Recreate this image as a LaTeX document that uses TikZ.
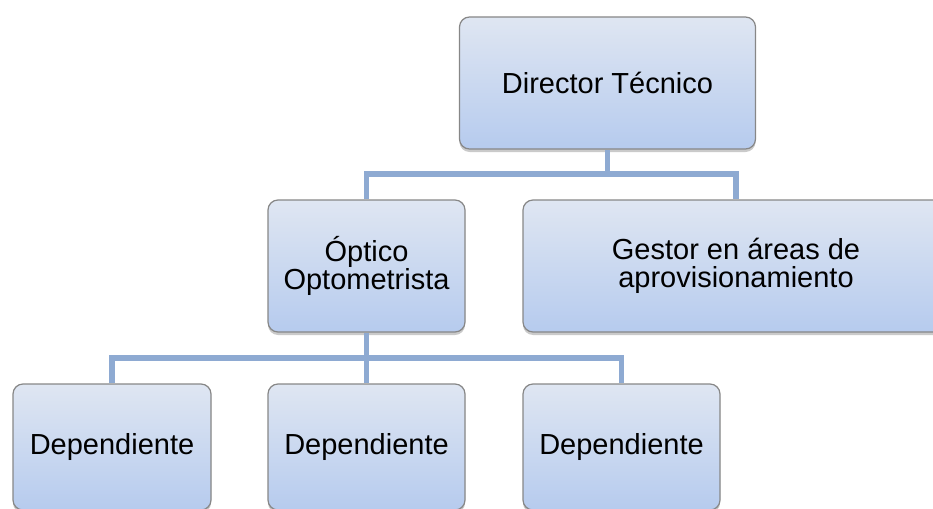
\documentclass[tikz,border=0pt]{standalone}
\usepackage{fontspec}
\setmainfont{Liberation Sans}
\usetikzlibrary{shadows}
\definecolor{boxtop}{RGB}{223,230,242}
\definecolor{boxbot}{RGB}{182,203,238}
\definecolor{boxedge}{RGB}{135,135,135}
\definecolor{conncol}{RGB}{142,170,210}
\tikzset{
  orgbox/.style={rectangle, rounded corners=10pt, draw=boxedge, line width=1.2pt,
    top color=boxtop, bottom color=boxbot, minimum height=132pt, align=center,
    inner sep=0pt, font=\fontsize{29}{28.5}\selectfont,
    drop shadow={shadow xshift=0pt, shadow yshift=-3pt, opacity=0.35, fill=black!60}},
  conn/.style={draw=conncol, line width=5.5pt}
}
\begin{document}
\begin{tikzpicture}[x=1pt,y=-1pt]
\useasboundingbox (0,0) rectangle (933,508);
\clip (0,0) rectangle (933,508);
\node[orgbox, minimum width=296pt] (dir) at (607.5,83) {Director Técnico};
\node[orgbox, minimum width=197pt] (opt) at (366.5,266) {Óptico\\Optometrista};
\node[orgbox, minimum width=426pt] (ges) at (736,266) {Gestor en áreas de\\aprovisionamiento};
\node[orgbox, minimum width=198pt, minimum height=126pt] (d1) at (112,447) {Dependiente};
\node[orgbox, minimum width=197pt, minimum height=126pt] (d2) at (366.5,447) {Dependiente};
\node[orgbox, minimum width=197pt, minimum height=126pt] (d3) at (621.5,447) {Dependiente};
\coordinate (bus1) at (dir.south |- 0,174);
\coordinate (bus2) at (opt.south |- 0,358);
\draw[conn] (dir.south) -- (bus1);
\draw[conn] (opt.north) |- (bus1) -| (ges.north);
\draw[conn] (opt.south) -- (bus2);
\draw[conn] (d1.north) |- (bus2) -| (d3.north);
\draw[conn] (bus2) -- (d2.north);
\end{tikzpicture}
\end{document}
